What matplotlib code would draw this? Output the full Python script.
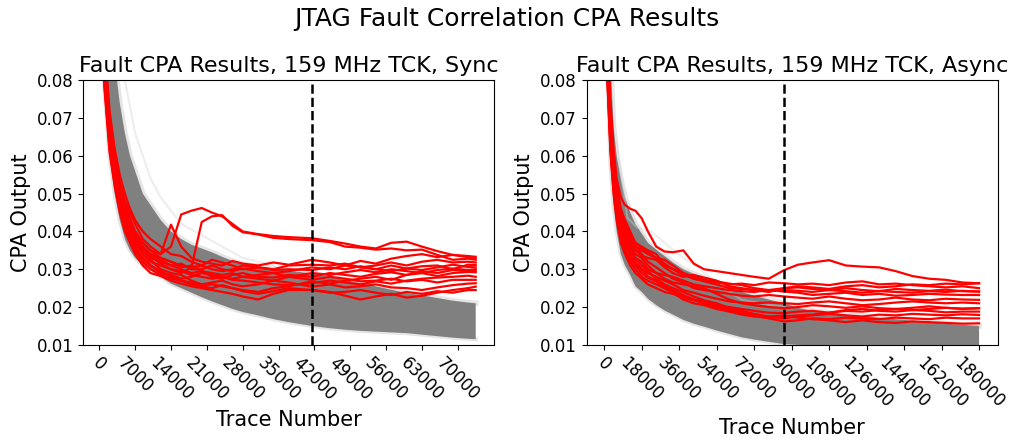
import numpy as np
import matplotlib
matplotlib.use('Agg')
import matplotlib.pyplot as plt

# ---- left panel: 159 MHz TCK, Sync ----
xs_sync = [500, 1000, 2000, 3000, 4000, 5000, 6000, 7000, 8500, 10000, 12000, 14000,
           16000, 18000, 20000, 22000, 24000, 26000, 28000, 31000, 34000, 37000, 41500,
           45000, 48000, 51000, 54000, 57000, 60000, 63000, 66000, 69000, 72000, 73500]

gray_hi_sync = [0.140, 0.115, 0.098, 0.085, 0.074, 0.066, 0.060, 0.056, 0.050, 0.047, 0.043, 0.040,
                0.038, 0.0365, 0.0355, 0.0345, 0.0333, 0.0322, 0.0313, 0.0308, 0.0302, 0.0296, 0.0289,
                0.0280, 0.0272, 0.0263, 0.0255, 0.0246, 0.0237, 0.0231, 0.0224, 0.0217, 0.0212, 0.0210]
gray_lo_sync = [0.110, 0.078, 0.060, 0.050, 0.043, 0.038, 0.035, 0.033, 0.031, 0.0298, 0.0280, 0.0262,
                0.0250, 0.0238, 0.0226, 0.0215, 0.0205, 0.0195, 0.0187, 0.0178, 0.0168, 0.0160, 0.0150,
                0.0144, 0.0140, 0.0137, 0.0135, 0.0133, 0.0131, 0.0127, 0.0123, 0.0119, 0.0116, 0.0115]

# faint outlier guesses visible above the grey band
ghost_x_sync = [4000, 5000, 7000, 10000, 12000, 16000, 20000, 24000, 28000, 34000]
ghost_y_sync = [0.090, 0.080, 0.066, 0.054, 0.049, 0.042, 0.039, 0.036, 0.033, 0.031]

red_sync = [
    [0.110, 0.085, 0.068, 0.058, 0.050, 0.046, 0.043, 0.040, 0.037, 0.035, 0.034, 0.036, 0.0445, 0.0455, 0.0462, 0.0450, 0.0440, 0.0420, 0.0400, 0.0393, 0.0388, 0.0385, 0.0382, 0.0375, 0.0368, 0.0360, 0.0355, 0.0370, 0.0373, 0.0360, 0.0348, 0.0338, 0.0332, 0.0329],
    [0.105, 0.082, 0.065, 0.055, 0.048, 0.044, 0.041, 0.038, 0.036, 0.034, 0.033, 0.032, 0.031, 0.0305, 0.0425, 0.0440, 0.0443, 0.0415, 0.0398, 0.0392, 0.0383, 0.0380, 0.0377, 0.0372, 0.0360, 0.0357, 0.0352, 0.0355, 0.0350, 0.0352, 0.0338, 0.0325, 0.0328, 0.0325],
    [0.112, 0.088, 0.070, 0.060, 0.053, 0.048, 0.045, 0.042, 0.038, 0.036, 0.034, 0.0418, 0.036, 0.033, 0.032, 0.0315, 0.031, 0.0322, 0.0315, 0.031, 0.0318, 0.0312, 0.0325, 0.0318, 0.031, 0.0322, 0.0315, 0.0328, 0.0335, 0.034, 0.0332, 0.0338, 0.0335, 0.0333],
    [0.108, 0.084, 0.066, 0.056, 0.049, 0.044, 0.040, 0.037, 0.034, 0.032, 0.031, 0.030, 0.029, 0.0305, 0.031, 0.030, 0.0295, 0.030, 0.031, 0.0305, 0.030, 0.031, 0.0312, 0.031, 0.0315, 0.0305, 0.031, 0.0318, 0.031, 0.032, 0.0325, 0.0318, 0.032, 0.0318],
    [0.104, 0.080, 0.063, 0.054, 0.047, 0.042, 0.039, 0.036, 0.033, 0.031, 0.029, 0.0285, 0.0275, 0.028, 0.029, 0.0285, 0.028, 0.0275, 0.028, 0.0285, 0.029, 0.0295, 0.0305, 0.030, 0.031, 0.0305, 0.030, 0.031, 0.0302, 0.0308, 0.031, 0.030, 0.0312, 0.0311],
    [0.115, 0.090, 0.072, 0.062, 0.055, 0.050, 0.046, 0.043, 0.040, 0.038, 0.036, 0.034, 0.0335, 0.032, 0.031, 0.0325, 0.0318, 0.031, 0.030, 0.0305, 0.0298, 0.030, 0.0298, 0.0305, 0.030, 0.0308, 0.0300, 0.0295, 0.0302, 0.0298, 0.0305, 0.0312, 0.0306, 0.0305],
    [0.106, 0.082, 0.064, 0.055, 0.048, 0.043, 0.040, 0.037, 0.035, 0.0325, 0.030, 0.029, 0.0285, 0.027, 0.026, 0.0265, 0.027, 0.026, 0.0255, 0.026, 0.027, 0.028, 0.029, 0.0285, 0.0292, 0.0298, 0.0292, 0.030, 0.0295, 0.029, 0.0298, 0.0302, 0.0298, 0.030],
    [0.110, 0.086, 0.068, 0.058, 0.051, 0.046, 0.042, 0.039, 0.036, 0.034, 0.0325, 0.031, 0.030, 0.029, 0.0295, 0.028, 0.0275, 0.0285, 0.029, 0.028, 0.0278, 0.0285, 0.028, 0.029, 0.0285, 0.028, 0.0288, 0.0292, 0.0285, 0.0295, 0.029, 0.0298, 0.0295, 0.0296],
    [0.102, 0.079, 0.062, 0.053, 0.046, 0.041, 0.038, 0.035, 0.032, 0.030, 0.0285, 0.0275, 0.027, 0.0265, 0.0258, 0.026, 0.0255, 0.025, 0.0245, 0.024, 0.025, 0.0255, 0.0268, 0.0262, 0.027, 0.0275, 0.028, 0.0272, 0.0285, 0.029, 0.0282, 0.029, 0.0293, 0.0292],
    [0.108, 0.083, 0.066, 0.056, 0.050, 0.045, 0.041, 0.038, 0.0355, 0.0335, 0.0315, 0.030, 0.0295, 0.0285, 0.028, 0.0275, 0.028, 0.0272, 0.027, 0.0265, 0.026, 0.0258, 0.0263, 0.027, 0.0265, 0.026, 0.0268, 0.0262, 0.027, 0.0275, 0.0278, 0.028, 0.0283, 0.028],
    [0.100, 0.078, 0.061, 0.052, 0.045, 0.040, 0.037, 0.034, 0.031, 0.029, 0.0282, 0.027, 0.0262, 0.0255, 0.025, 0.0245, 0.024, 0.0235, 0.0228, 0.022, 0.0235, 0.0245, 0.0245, 0.024, 0.023, 0.022, 0.0228, 0.0235, 0.0225, 0.023, 0.0238, 0.0245, 0.025, 0.0254],
    [0.113, 0.087, 0.069, 0.059, 0.052, 0.047, 0.0435, 0.040, 0.037, 0.035, 0.033, 0.032, 0.0305, 0.031, 0.0295, 0.029, 0.0285, 0.029, 0.028, 0.0275, 0.027, 0.0265, 0.0254, 0.026, 0.0252, 0.0255, 0.026, 0.0252, 0.025, 0.0245, 0.0252, 0.0258, 0.0262, 0.0263],
    [0.105, 0.081, 0.064, 0.054, 0.047, 0.042, 0.038, 0.0355, 0.033, 0.031, 0.0295, 0.028, 0.027, 0.026, 0.0255, 0.025, 0.0258, 0.025, 0.0242, 0.0235, 0.0242, 0.025, 0.0245, 0.0238, 0.024, 0.0245, 0.0238, 0.0232, 0.024, 0.0235, 0.0242, 0.0238, 0.0245, 0.0245],
    [0.109, 0.085, 0.067, 0.057, 0.050, 0.045, 0.041, 0.038, 0.035, 0.033, 0.032, 0.031, 0.0315, 0.030, 0.030, 0.031, 0.030, 0.0295, 0.0302, 0.0295, 0.029, 0.028, 0.0272, 0.028, 0.0275, 0.0268, 0.027, 0.0275, 0.0268, 0.0272, 0.0265, 0.0272, 0.0272, 0.0272],
]
mark_sync = 41500

# ---- right panel: 159 MHz TCK, Async ----
xs_async = [500, 1500, 3000, 4500, 6000, 8000, 10000, 12500, 15000, 18000, 21000, 25000,
            29000, 33000, 38000, 43000, 48000, 54000, 60000, 66000, 72000, 79000, 86500,
            93000, 100000, 108000, 116000, 124000, 132000, 140000, 148000, 156000, 164000,
            172000, 180000]

gray_hi_async = [0.140, 0.100, 0.085, 0.068, 0.060, 0.0541, 0.049, 0.045, 0.042, 0.0395, 0.037, 0.0352,
                 0.0335, 0.0318, 0.030, 0.0288, 0.0277, 0.0262, 0.025, 0.024, 0.023, 0.022, 0.021,
                 0.0198, 0.019, 0.0185, 0.018, 0.0176, 0.0172, 0.0168, 0.0164, 0.016, 0.0156,
                 0.0153, 0.0150]
gray_lo_async = [0.120, 0.085, 0.058, 0.047, 0.040, 0.034, 0.031, 0.0285, 0.0255, 0.024, 0.0222, 0.0205,
                 0.0191, 0.0180, 0.0166, 0.0156, 0.0148, 0.0138, 0.0129, 0.0120, 0.0114, 0.0108, 0.0102,
                 0.0100, 0.0099, 0.0098, 0.0097, 0.0096, 0.0096, 0.0095, 0.0095, 0.0095, 0.0094,
                 0.0094, 0.0094]

ghost_x_async = [6000, 8000, 11200, 16000, 22400, 27000, 32000, 38000, 43200, 55000, 66000, 80000, 86500]
ghost_y_async = [0.064, 0.055, 0.0435, 0.041, 0.040, 0.038, 0.0356, 0.033, 0.0312, 0.026, 0.0219, 0.0205, 0.0201]

red_async = [
    [0.120, 0.095, 0.075, 0.062, 0.054, 0.049, 0.047, 0.046, 0.0455, 0.0435, 0.040, 0.036, 0.0347, 0.0345, 0.035, 0.0315, 0.030, 0.0295, 0.029, 0.0285, 0.028, 0.0275, 0.0298, 0.0312, 0.0318, 0.0324, 0.031, 0.0307, 0.0305, 0.0295, 0.0282, 0.0275, 0.0272, 0.0265, 0.0263],
    [0.115, 0.090, 0.072, 0.060, 0.052, 0.046, 0.043, 0.040, 0.037, 0.036, 0.035, 0.034, 0.031, 0.030, 0.0285, 0.0275, 0.027, 0.0265, 0.026, 0.0262, 0.0258, 0.0265, 0.0263, 0.026, 0.0262, 0.0258, 0.0265, 0.0268, 0.026, 0.0262, 0.0258, 0.0255, 0.0252, 0.0255, 0.0250],
    [0.110, 0.087, 0.068, 0.057, 0.049, 0.043, 0.040, 0.037, 0.035, 0.0335, 0.033, 0.0325, 0.0305, 0.029, 0.028, 0.0285, 0.0278, 0.027, 0.0255, 0.025, 0.0245, 0.024, 0.0250, 0.0252, 0.0248, 0.0245, 0.025, 0.0245, 0.0242, 0.0248, 0.0245, 0.0243, 0.0246, 0.0242, 0.0241],
    [0.108, 0.085, 0.066, 0.055, 0.047, 0.041, 0.038, 0.0355, 0.033, 0.032, 0.030, 0.029, 0.0285, 0.028, 0.027, 0.026, 0.0255, 0.025, 0.0245, 0.0242, 0.024, 0.0245, 0.0241, 0.0238, 0.0232, 0.0235, 0.0238, 0.0232, 0.0235, 0.023, 0.0232, 0.0235, 0.0233, 0.0232, 0.0232],
    [0.113, 0.089, 0.070, 0.058, 0.050, 0.044, 0.041, 0.038, 0.036, 0.034, 0.032, 0.0305, 0.029, 0.0275, 0.0265, 0.025, 0.0245, 0.024, 0.0235, 0.023, 0.0228, 0.0232, 0.0228, 0.0225, 0.0222, 0.0228, 0.0222, 0.0218, 0.022, 0.0225, 0.022, 0.0218, 0.0222, 0.022, 0.0219],
    [0.106, 0.083, 0.064, 0.053, 0.045, 0.039, 0.036, 0.034, 0.032, 0.030, 0.029, 0.028, 0.027, 0.026, 0.0245, 0.0238, 0.023, 0.0222, 0.0215, 0.0212, 0.021, 0.0212, 0.021, 0.0208, 0.0212, 0.0215, 0.021, 0.0205, 0.0208, 0.0212, 0.0215, 0.0212, 0.021, 0.0212, 0.0210],
    [0.111, 0.088, 0.069, 0.057, 0.049, 0.043, 0.039, 0.036, 0.034, 0.033, 0.031, 0.029, 0.0275, 0.0265, 0.026, 0.0255, 0.025, 0.0235, 0.022, 0.021, 0.0205, 0.020, 0.0197, 0.020, 0.0205, 0.0202, 0.0198, 0.0202, 0.0197, 0.0195, 0.0198, 0.0202, 0.0198, 0.0195, 0.0197],
    [0.104, 0.081, 0.062, 0.051, 0.044, 0.038, 0.035, 0.032, 0.030, 0.028, 0.027, 0.026, 0.025, 0.024, 0.023, 0.022, 0.0215, 0.0205, 0.020, 0.0195, 0.019, 0.0185, 0.0184, 0.0188, 0.019, 0.0185, 0.0192, 0.0195, 0.019, 0.0188, 0.0192, 0.019, 0.0186, 0.0188, 0.0188],
    [0.109, 0.086, 0.067, 0.056, 0.048, 0.042, 0.038, 0.035, 0.033, 0.031, 0.0295, 0.0275, 0.026, 0.025, 0.024, 0.0228, 0.0218, 0.021, 0.0198, 0.019, 0.0182, 0.0175, 0.0170, 0.0175, 0.0178, 0.0182, 0.0178, 0.0175, 0.018, 0.0178, 0.0182, 0.018, 0.0178, 0.0181, 0.0179],
    [0.107, 0.084, 0.065, 0.054, 0.046, 0.040, 0.037, 0.034, 0.0315, 0.030, 0.028, 0.027, 0.0255, 0.0245, 0.0232, 0.022, 0.021, 0.020, 0.0192, 0.0185, 0.0178, 0.017, 0.0162, 0.0165, 0.017, 0.0168, 0.0172, 0.017, 0.0168, 0.0172, 0.017, 0.0168, 0.0172, 0.017, 0.0170],
    [0.103, 0.080, 0.061, 0.050, 0.043, 0.037, 0.034, 0.031, 0.029, 0.0275, 0.026, 0.025, 0.024, 0.0235, 0.0225, 0.0218, 0.021, 0.0202, 0.0195, 0.0188, 0.018, 0.0175, 0.0178, 0.0172, 0.0168, 0.0165, 0.016, 0.0165, 0.016, 0.0158, 0.0162, 0.016, 0.0158, 0.0156, 0.0157],
    [0.112, 0.090, 0.071, 0.059, 0.051, 0.045, 0.042, 0.039, 0.037, 0.0355, 0.0345, 0.033, 0.0315, 0.030, 0.029, 0.028, 0.0272, 0.0268, 0.0262, 0.0258, 0.025, 0.0245, 0.0250, 0.0255, 0.0252, 0.0248, 0.0255, 0.0258, 0.0252, 0.0255, 0.026, 0.0258, 0.0262, 0.026, 0.0263],
    [0.114, 0.091, 0.071, 0.059, 0.051, 0.045, 0.041, 0.038, 0.036, 0.035, 0.034, 0.033, 0.0325, 0.031, 0.029, 0.0275, 0.0268, 0.026, 0.025, 0.0248, 0.0245, 0.0242, 0.0245, 0.0243, 0.024, 0.0245, 0.0242, 0.0238, 0.0242, 0.024, 0.0238, 0.0242, 0.024, 0.0243, 0.0241],
    [0.105, 0.082, 0.063, 0.052, 0.044, 0.038, 0.035, 0.033, 0.031, 0.029, 0.0278, 0.0268, 0.025, 0.0238, 0.022, 0.021, 0.0205, 0.0195, 0.0188, 0.018, 0.0175, 0.0172, 0.0175, 0.0178, 0.018, 0.0185, 0.019, 0.0188, 0.0192, 0.0195, 0.0192, 0.0195, 0.0198, 0.0196, 0.0197],
]
mark_async = 86500


def draw_panel(ax, xs, hi, lo, gx, gy, reds, mark, step, title):
	# wrong-guess traces: dense grey band with a soft edge
	ax.fill_between(xs, lo, hi, color='gray', lw=0, zorder=1)
	ax.plot(xs, hi, color='gray', alpha=0.2, lw=4, zorder=1)
	ax.plot(xs, lo, color='gray', alpha=0.2, lw=3, zorder=1)
	ax.plot(gx, gy, color='lightgray', alpha=0.4, lw=1.5, zorder=1)
	for r in reds:
		ax.plot(xs, r, color='red', lw=1.6, zorder=2)
	ax.axvline(mark, color='black', ls='--', lw=1.8, zorder=3)
	ax.set_ylim(0.01, 0.08)
	ax.set_xticks(np.arange(0, xs[-1] + 1, step))
	ax.tick_params(axis='x', labelrotation=-45)
	ax.tick_params(labelsize=12)
	ax.set_title(title, fontsize=16)
	ax.set_xlabel('Trace Number', fontsize=15)
	ax.set_ylabel('CPA Output', fontsize=15)


fig, (ax1, ax2) = plt.subplots(1, 2, figsize=(10.14, 4.41), dpi=100)
draw_panel(ax1, xs_sync, gray_hi_sync, gray_lo_sync, ghost_x_sync, ghost_y_sync,
           red_sync, mark_sync, 7000, 'Fault CPA Results, 159 MHz TCK, Sync')
draw_panel(ax2, xs_async, gray_hi_async, gray_lo_async, ghost_x_async, ghost_y_async,
           red_async, mark_async, 18000, 'Fault CPA Results, 159 MHz TCK, Async')
fig.suptitle('JTAG Fault Correlation CPA Results', fontsize=18, y=0.985)
plt.subplots_adjust(left=0.082, right=0.984, bottom=0.218, top=0.818, wspace=0.224)
plt.savefig('out.png')
